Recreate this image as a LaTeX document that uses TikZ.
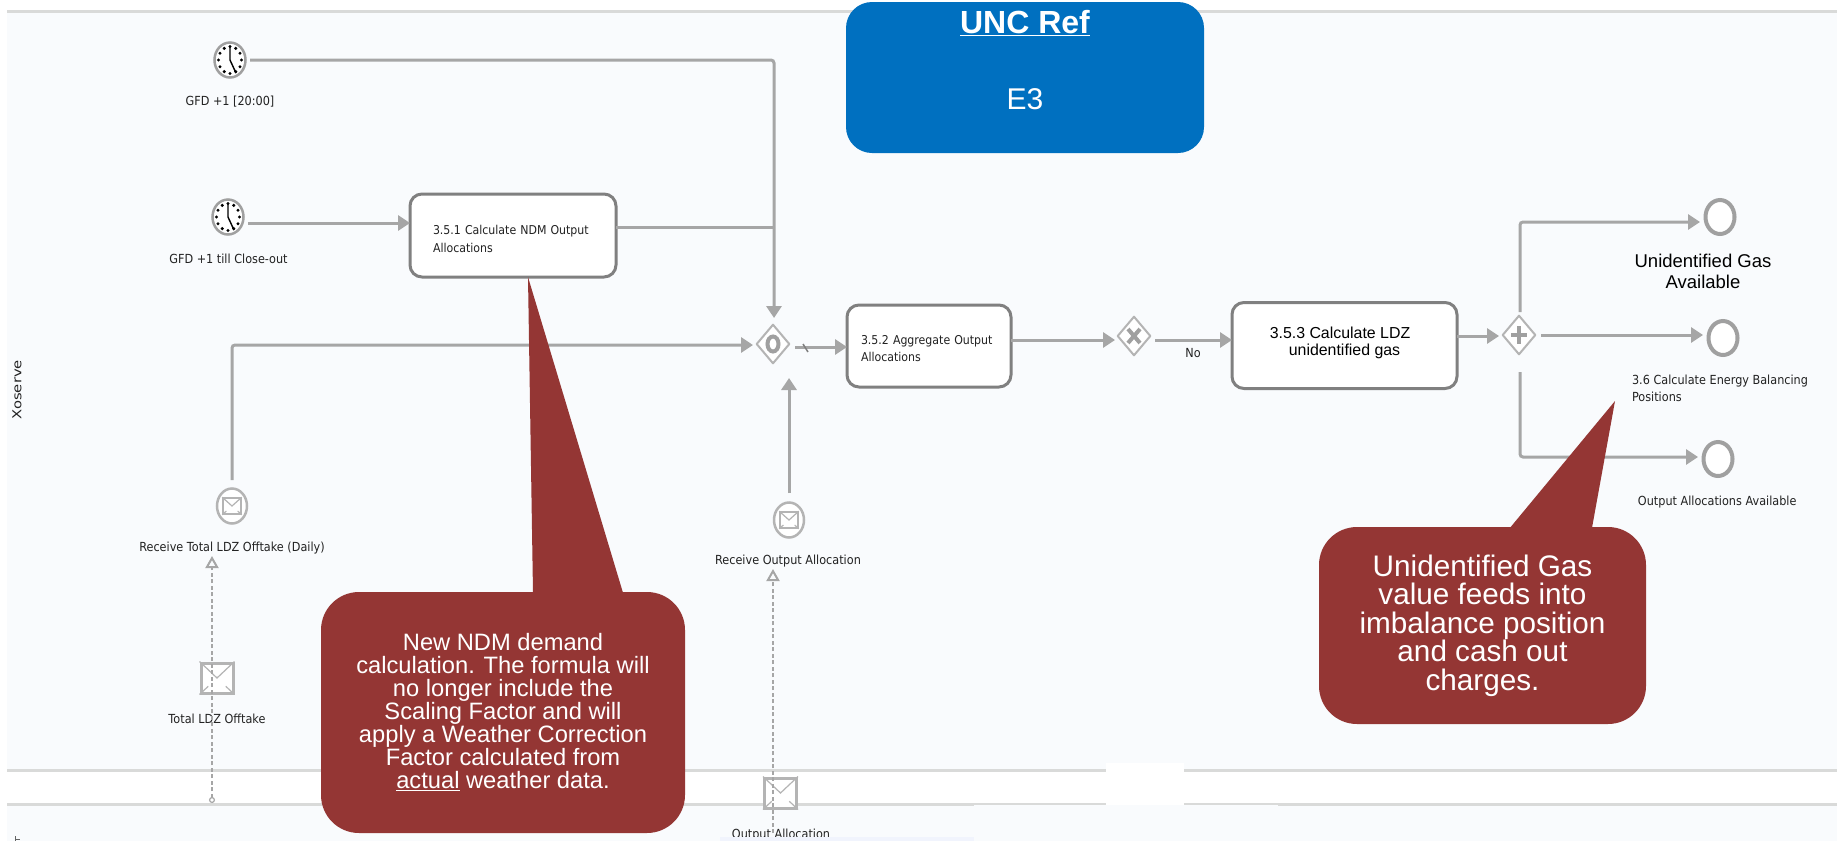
\documentclass[tikz,border=0pt]{standalone}
\usepackage{fontspec}
\setmainfont{Liberation Sans}
\newfontfamily\bpmnfont[FakeStretch=0.9]{DejaVu Sans}
\newfontfamily\lanefont[FakeStretch=1.2]{DejaVu Sans}
\usetikzlibrary{arrows.meta}
\usetikzlibrary{calc}
\usetikzlibrary{shapes.geometric}
\tikzset{
  flowline/.style={draw=flowgray, line width=3pt, rounded corners=3pt, -{Triangle[length=12pt,width=15pt]}},
  plainline/.style={draw=flowgray, line width=3pt},
  msgline/.style={draw=flowgray, line width=2.5pt, dash pattern=on 4pt off 2.5pt,
    {Circle[open,length=6pt,width=6pt,fill=white,line width=1.2pt,sep=0pt]}-{Triangle[open,length=12pt,width=13pt,fill=lanewhite,line width=2pt]}},
  taskbox/.style={draw=taskgray, fill=white, line width=3pt, rounded corners=12pt, inner xsep=0pt, inner ysep=0pt,
    outer sep=0pt, align=left, font=\bpmnfont\fontsize{12.2}{17.5}\selectfont, text=textblack},
  eventnode/.style={ellipse, draw=eventgray, fill=white, line width=4pt, minimum width=29pt, minimum height=34pt, inner sep=0pt, outer sep=1.5pt},
  clocknode/.style={eventnode, line width=2.5pt, minimum width=31pt, minimum height=35pt},
  innode/.style={eventnode, draw=lightgray2, line width=2.5pt, minimum width=30pt, minimum height=35pt},
  gatenode/.style={diamond, draw=lightgray2, fill=white, line width=2pt, minimum width=33pt, minimum height=39pt, inner sep=0pt, outer sep=0.5pt, line join=round},
  gatemark/.style={draw=markgray, line width=4pt},
  msgbox/.style={rectangle, draw=lightgray2, fill=white, line width=3pt, minimum width=32pt, minimum height=30pt, inner sep=0pt, outer sep=1.5pt},
  smallbox/.style={rectangle, draw=lightgray2, fill=white, line width=1.5pt, minimum width=18pt, minimum height=16pt, inner sep=0pt},
  envline/.style={draw=lightgray2, line width=1.2pt},
  bpmnlabel/.style={align=center, inner sep=0pt, font=\bpmnfont\fontsize{12.5}{17}\selectfont, text=textblack},
  calloutbox/.style={fill=calloutred, text=white, rounded corners=38pt, align=center, inner sep=0pt},
  laneline/.style={draw=lanegray, line width=3pt},
}

\begin{document}
\begin{tikzpicture}[x=1pt,y=-1pt]
    \definecolor{flowgray}{HTML}{A6A6A6}
    \definecolor{taskgray}{HTML}{808080}
    \definecolor{eventgray}{HTML}{A0A0A0}
    \definecolor{lightgray2}{HTML}{B4B4B4}
    \definecolor{markgray}{HTML}{A0A0A0}
    \definecolor{lanegray}{HTML}{D9DAD9}
    \definecolor{lanewhite}{HTML}{F9FBFD}
    \definecolor{calloutred}{HTML}{943634}
    \definecolor{uncblue}{HTML}{0070C0}
    \definecolor{textblack}{HTML}{222222}
    \useasboundingbox (0,0) rectangle (1837,841);
    \fill[white] (0,0) rectangle (1837,841);
    \fill[lanewhite] (7,11) rectangle (1837,841);  %Hintergrund
    \fill[white] (7,770) rectangle (1837,804);  %Band
    \fill[white] (1106,763) rectangle (1184,804);
    \draw[laneline] (7,11) -- (1837,11);
    \draw[laneline] (7,770) -- (1106,770);
    \draw[laneline] (1184,770) -- (1837,770);
    \draw[laneline] (7,804) -- (1837,804);
    \fill[white] (1106,763) rectangle (1184,804.5);
    \fill[lanewhite] (974,805) rectangle (1278,841);
    \node[rotate=90, inner sep=0pt, text=textblack, font=\lanefont\fontsize{12.3}{14}\selectfont] (laneName) at (17,390) {Xoserve};
    \draw[textblack!70, line width=.8pt] (15.5,836) -- (15.5,841) (15.5,839) -- (20,839);  %Rest unten links

    % events
    \foreach \name/\x/\y in {clockA/230/60, clockB/228/217}
    {
      \node[clocknode] (\name) at (\x,\y) {};
      \foreach \a in {0,30,...,330}
        \fill[black] ([shift={(\a:11.5 and 13.5)}]\name.center) circle (1.7pt);
      \draw[black, line width=1.4pt] ([yshift=13pt]\name.center) -- (\name.center) -- ([shift={(6,13)}]\name.center);
    };
    \foreach \name/\x/\y in {endA/1720/217, endB/1723/338, endC/1718/459}
      \node[eventnode] (\name) at (\x,\y) {};
    \foreach \name/\x/\y in {inA/232/506, inB/789/520}
    {
      \node[innode] (\name) at (\x,\y) {};
      \node[smallbox] (\name Env) at (\x,\y) {};
      \draw[envline] (\name Env.north west) -- (\name Env.center) -- (\name Env.north east)
        (\name Env.south west) -- ($(\name Env.south west)!.42!(\name Env.center)$)
        (\name Env.south east) -- ($(\name Env.south east)!.42!(\name Env.center)$);
    };

    % tasks
    \node[taskbox, minimum width=206pt, minimum height=83pt, text width=160pt] (taskA) at (513,235.5)
      {\mbox{}\\[-1.2pt]3.5.1 Calculate NDM Output\\Allocations};
    \node[taskbox, minimum width=164pt, minimum height=82pt, text width=136pt] (taskB) at (929,346)
      {\mbox{}\\[-3.5pt]3.5.2 Aggregate Output\\Allocations};
    \node[taskbox, minimum width=225pt, minimum height=86pt, align=center, font=\fontsize{15.9}{16.5}\selectfont, text=black] (taskC) at (1344.5,345.5)
      {3.5.3 Calculate LDZ\hspace*{9pt}\\unidentified gas\hspace*{9pt}\\[-8pt]\mbox{}};

    % gateways
    \node[gatenode] (gateA) at (773,344) {};
    \node[gatenode] (gateB) at (1134,336) {};
    \node[gatenode] (gateC) at (1519,335) {};
    \draw[gatemark] (gateA.center) ellipse (5.5 and 7.5);
    \draw[gatemark] (gateB.center) +(-6,-7) -- +(6,7) +(-6,7) -- +(6,-7);
    \draw[gatemark] (gateC.center) +(-8,0) -- +(8,0) +(0,-9) -- +(0,9);

    % flows
    \draw[flowline] ([xshift=3pt]clockA.east) -| ([xshift=1pt,yshift=6pt]gateA.north);
    \draw[flowline] ([xshift=3pt,yshift=-6pt]clockB.east) -- ([yshift=12.5pt]taskA.west);
    \draw[plainline] ([yshift=8.5pt]taskA.east) -- ([xshift=1pt,yshift=97pt]gateA.north);
    \draw[flowline] ([yshift=7pt]inA.north) |- ([xshift=-3pt,yshift=-1pt]gateA.west);
    \draw[flowline] ([yshift=8pt]inB.north) -- ([xshift=16pt,yshift=-14pt]gateA.south);
    \draw[flowline] ([xshift=5pt,yshift=-3pt]gateA.east) -- ([yshift=-1pt]taskB.west);
    \draw[taskgray, line width=1.5pt] (803,344) -- (808,352);  %Default-Markierung
    \draw[flowline] ([yshift=6pt]taskB.east) -- ([xshift=-2pt,yshift=-4pt]gateB.west);
    \draw[flowline] ([xshift=4pt,yshift=-4pt]gateB.east) -- ([yshift=5.5pt]taskC.west);
    \draw[flowline] ([yshift=9.5pt]taskC.east) -- ([xshift=-3pt,yshift=-1pt]gateC.west);
    \draw[flowline] ([xshift=1pt,yshift=3pt]gateC.north) |- ([xshift=-4pt,yshift=-5pt]endA.west);
    \draw[flowline] ([xshift=5pt]gateC.east) -- ([xshift=-4pt,yshift=3pt]endB.west);
    \draw[flowline] ([xshift=1pt,yshift=-17pt]gateC.south) |- ([xshift=-4pt,yshift=2pt]endC.west);

    % labels
    \foreach \name/\x/\y/\txt in
    {
      labelClockA/230/102/{GFD +1 [20:00]},
      labelClockB/228.5/259/{GFD +1 till Close-out},
      labelInA/232/548/{Receive Total LDZ Offtake (Daily)},
      labelInB/788/561/{Receive Output Allocation},
      labelMsgA/217/719/{Total LDZ Offtake},
      labelMsgB/781/835/{Output Allocation},
      labelNo/1193/353/{No},
      labelEndC/1719/502/{Output Allocations Available}
    }
      \node[bpmnlabel] (\name) at (\x,\y) {\txt};
    \node[bpmnlabel, align=left] (labelEndB) at (1720,388.5) {3.6 Calculate Energy Balancing\\Positions};
    \node[align=center, inner sep=0pt, font=\fontsize{18.5}{21}\selectfont, text=black] (labelEndA) at (1703,271.5) {Unidentified Gas\\Available};
    \fill[lanewhite!97!blue] (720,837) rectangle (974,841);  %Abschnitt unten

    % message boxes
    \foreach \name/\x/\y in {msgA/217/678, msgB/780.5/793}
    {
      \node[msgbox] (\name) at (\x,\y) {};
      \draw[envline] (\name.north west) -- (\name.center) -- (\name.north east)
        (\name.south west) -- ($(\name.south west)!.5!(\name.center)$)
        (\name.south east) -- ($(\name.south east)!.5!(\name.center)$);
    };
    \coordinate (msgStartA) at (212,803);
    \coordinate (msgStartB) at (773,833);
    \draw[msgline] (msgStartA) -- ([xshift=-20pt,yshift=-31pt]inA.south);
    \draw[msgline, {Circle[length=0pt,width=0pt,sep=0pt]}-{Triangle[open,length=12pt,width=13pt,fill=lanewhite,line width=2pt]}] (msgStartB) -- ([xshift=-16pt,yshift=-30pt]inB.south);

    % callouts
    \node[calloutbox, minimum width=364pt, minimum height=241pt, font=\fontsize{23.7}{23}\selectfont] (calloutA) at (503,712.5)
      {New NDM demand\\calculation. The formula will\\no longer include the\\Scaling Factor and will\\apply a Weather Correction\\Factor calculated from\\\underline{actual} weather data.};
    \fill[calloutred] ([xshift=30pt,yshift=-1pt]calloutA.north) -- ([xshift=15pt]taskA.south) -- ([xshift=120pt,yshift=-1pt]calloutA.north) -- cycle;
    \node[calloutbox, minimum width=327pt, minimum height=197pt, font=\fontsize{29.7}{28.5}\selectfont] (calloutB) at (1482.5,625.5)
      {Unidentified Gas\\value feeds into\\imbalance position\\and cash out\\charges.};
    \coordinate (calloutTipB) at (1615,401);
    \fill[calloutred] ([xshift=27.5pt,yshift=-1pt]calloutB.north) -- (calloutTipB) -- ([xshift=109.5pt,yshift=-1pt]calloutB.north) -- cycle;
    \node[fill=uncblue, text=white, rounded corners=26pt, minimum width=358pt, minimum height=151pt, inner sep=0pt, align=center, font=\fontsize{30}{32}\selectfont] (uncBox) at (1025,77.5)
      {\fontsize{32}{32}\selectfont\underline{\textbf{UNC Ref}}\\[44pt]E3\\[3pt]\mbox{}};
\end{tikzpicture}
\end{document}
